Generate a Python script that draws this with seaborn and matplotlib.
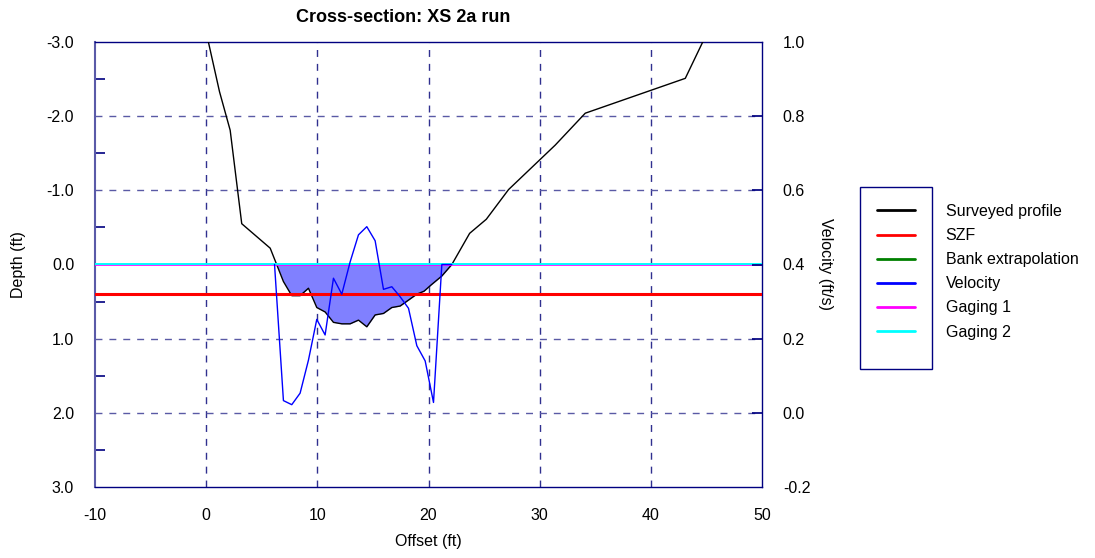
import matplotlib
matplotlib.use("Agg")
import matplotlib.pyplot as plt
import seaborn as sns
import numpy as np
import pandas as pd
from matplotlib.lines import Line2D
from matplotlib.patches import Rectangle
from matplotlib.ticker import MultipleLocator

# ---- data ----
profile_offset = [0.2, 1.2, 2.16, 3.2, 5.76, 6.95, 7.7, 8.45, 9.2, 9.95, 10.7, 11.45,
                  12.2, 12.95, 13.7, 14.45, 15.2, 15.95, 16.7, 17.45, 18.2, 18.95,
                  19.6, 20.2, 21.2, 22.1, 23.7, 25.2, 27.2, 31.4, 34.1, 43.1, 44.7]
profile_depth = [-3.0, -2.33, -1.81, -0.55, -0.22, 0.23, 0.42, 0.42, 0.32, 0.58, 0.64, 0.78,
                 0.80, 0.80, 0.75, 0.84, 0.68, 0.66, 0.58, 0.56, 0.48, 0.40,
                 0.36, 0.28, 0.155, 0.0, -0.42, -0.61, -1.01, -1.61, -2.04, -2.51, -3.01]
velocity_offset = [6.15, 6.95, 7.7, 8.45, 9.2, 9.95, 10.7, 11.45, 12.2, 12.95, 13.7, 14.45,
                   15.2, 15.95, 16.7, 17.45, 18.2, 18.95, 19.7, 20.45, 21.2, 22.1]
velocity = [0.40, 0.033, 0.022, 0.053, 0.142, 0.252, 0.21, 0.363, 0.32, 0.407, 0.48, 0.502,
            0.464, 0.333, 0.34, 0.313, 0.282, 0.181, 0.14, 0.028, 0.40, 0.40]
szf_depth = 0.4
gaging1_depth = 0.0
gaging2_depth = 0.0
legend_labels = ["Surveyed profile", "SZF", "Bank extrapolation", "Velocity", "Gaging 1", "Gaging 2"]
legend_colors = ["black", "red", "green", "blue", "magenta", "cyan"]

sns.set_theme(style="white")
plt.rcParams['font.family'] = ['Liberation Sans', 'DejaVu Sans']
plt.rcParams['axes.unicode_minus'] = False
plt.rcParams['text.color'] = 'black'
plt.rcParams['axes.labelcolor'] = 'black'

NAVY = "#000080"
FS = 11.5
W, H = 1095, 558
fig = plt.figure(figsize=(W / 100, H / 100), dpi=100)
ax = fig.add_axes([95 / W, 1 - 487 / H, (762 - 95) / W, (487 - 42) / H])

prof = pd.DataFrame({"offset": profile_offset, "depth": profile_depth})
vel = pd.DataFrame({"offset": velocity_offset, "velocity": velocity})

px = np.array(profile_offset)
pdp = np.array(profile_depth)
ax.fill_between(px, 0, pdp, where=pdp >= 0, interpolate=True,
                color="#8080ff", linewidth=0, zorder=2)

sns.lineplot(data=prof, x="offset", y="depth", sort=False, estimator=None,
             color="black", linewidth=1.0, ax=ax, zorder=3)
ax.axhline(szf_depth, color="red", linewidth=2.2, zorder=4)
ax.axhline(gaging1_depth + 0.012, color="magenta", linewidth=1.2, zorder=4)
ax.axhline(gaging2_depth - 0.008, color="cyan", linewidth=1.4, zorder=4)

ax.set_xlim(-10, 50)
ax.set_ylim(3, -3)
ax.xaxis.set_major_locator(MultipleLocator(10))
ax.xaxis.set_minor_locator(MultipleLocator(2))
ax.yaxis.set_minor_locator(MultipleLocator(0.5))
ax.set_yticks(np.arange(-3, 3.01, 1))
ax.set_yticklabels([f"{v:.1f}" for v in np.arange(-3, 3.01, 1)])

for xv in [0, 10, 20, 30, 40]:
    ax.axvline(xv, color="#30308f", linewidth=1.0, linestyle=(0, (5, 5)), zorder=1)
for yv in [-2, -1, 1, 2]:
    ax.axhline(yv, color="#5a5aa5", linewidth=1.0, linestyle=(0, (5, 5)), zorder=1)

ax.tick_params(axis="both", which="both", direction="in", colors=NAVY,
               labelcolor="black", labelsize=FS)
ax.tick_params(axis="x", which="major", length=0, pad=15)
ax.tick_params(axis="x", which="minor", length=7, width=1)
ax.tick_params(axis="y", which="major", length=0, pad=15)
ax.tick_params(axis="y", which="minor", length=7, width=1.2)

for s in ax.spines.values():
    s.set_color(NAVY)
    s.set_linewidth(1.0)
ax.spines["left"].set_color("#5a5aa8")
ax.spines["left"].set_linewidth(1.5)

ax.set_xlabel("Offset (ft)", fontsize=FS, labelpad=8)
ax.set_ylabel("Depth (ft)", fontsize=FS, labelpad=15)
fig.text(403 / W, 1 - 17 / H, "Cross-section: XS 2a run", fontsize=13,
         fontweight="bold", ha="center", va="center")

ax2 = ax.twinx()
sns.lineplot(data=vel, x="offset", y="velocity", sort=False, estimator=None,
             color="blue", linewidth=1.0, ax=ax2, zorder=5)
ax2.set_ylim(-0.2, 1.0)
ax2.set_yticks(np.arange(-0.2, 1.01, 0.2))
ax2.set_yticklabels([f"{v:.1f}" for v in np.arange(-0.2, 1.01, 0.2)])
ax2.tick_params(axis="y", direction="in", length=7, colors=NAVY, labelcolor="black",
                labelsize=FS, pad=15)
ticks2 = ax2.yaxis.get_major_ticks()
for t in (ticks2[0], ticks2[-1]):
    t.tick2line.set_visible(False)
ax2.set_ylabel("Velocity (ft/s)", fontsize=FS, rotation=270, labelpad=16)
ax2.set_xlabel("")
for s in ax2.spines.values():
    s.set_visible(False)

# legend
handles = [Line2D([0], [0], color=c, linewidth=2) for c in legend_colors]
fig.legend(handles, legend_labels, loc="upper left",
           bbox_to_anchor=(877 / W, 1 - 204 / H), frameon=False, fontsize=FS,
           handlelength=2.4, handletextpad=1.9, labelspacing=0.57,
           borderpad=0, borderaxespad=0)
fig.patches.append(Rectangle((860 / W, 1 - 369 / H), 72 / W, 182 / H,
                             transform=fig.transFigure, fill=False,
                             edgecolor=NAVY, linewidth=1.0))

fig.savefig("out.png", dpi=100)
